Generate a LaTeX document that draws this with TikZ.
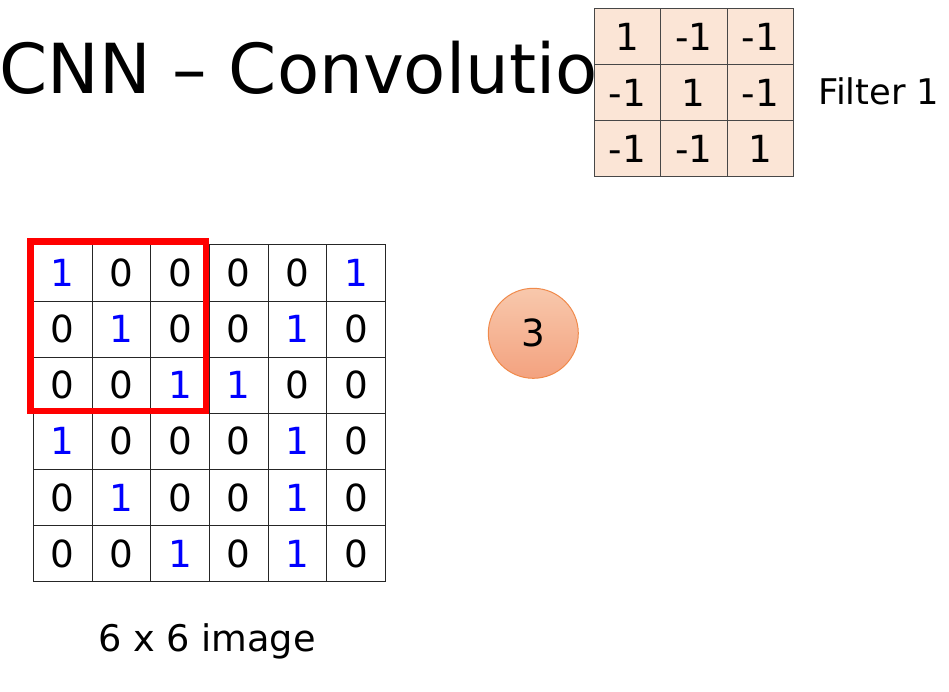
\documentclass[tikz,border=0pt]{standalone}
\usepackage{fontspec}
\setmainfont{DejaVu Sans}
\usepackage{xcolor}
\usepackage{tikz}
\definecolor{CVBlue}{HTML}{0000FF}
\definecolor{CVRed}{HTML}{FF0000}
\definecolor{CVPeach}{HTML}{FBE5D6}
\definecolor{CVGrid}{HTML}{262626}
\definecolor{CVSumTop}{HTML}{F8C8AC}
\definecolor{CVSumBot}{HTML}{F3A27F}
\definecolor{CVSumLine}{HTML}{F08A4B}
\colorlet{pixcol0}{black}
\colorlet{pixcol1}{CVBlue}

\tikzset{
  pixcell/.style={draw=CVGrid,line width=0.75pt,minimum width=44.05pt,minimum height=42.08pt,
    inner sep=0pt,outer sep=0pt,font=\fontsize{28}{30}\selectfont},
  filtcell/.style={pixcell,draw=CVGrid!85,fill=CVPeach,minimum width=49.75pt},
}

\begin{document}
\begin{tikzpicture}[x=0.75pt,y=-0.75pt]
\path[use as bounding box] (0,0) rectangle (949,692);
\node[anchor=base west,inner sep=0pt,font=\fontsize{51.75}{60}\selectfont] (title) at (-1,93.5) {CNN – Convolution};
\foreach \row [count=\r from 0] in {{1,-1,-1},{-1,1,-1},{-1,-1,1}}
  \foreach \v [count=\c from 0] in \row
    \node[filtcell] (flt-\r-\c) at (627.5+66.33*\c,36.4+56.1*\r) {\v};
\node[anchor=base west,inner sep=0pt,font=\fontsize{26.5}{29}\selectfont] (fname) at (818,104) {Filter 1};
\foreach \row [count=\r from 0] in {{1,0,0,0,0,1},{0,1,0,0,1,0},{0,0,1,1,0,0},{1,0,0,0,1,0},{0,1,0,0,1,0},{0,0,1,0,1,0}}
  \foreach \v [count=\c from 0] in \row
    \node[pixcell,text=pixcol\v] (img-\r-\c) at (62.67+58.73*\c,273.05+56.1*\r) {\v};
\draw[CVRed,line width=5pt] ([shift={(-2.7,-3.4)}]img-0-0.north west) rectangle ([shift={(-3.5,-2.3)}]img-2-2.south east);
\node[circle,draw=CVSumLine,line width=0.75pt,top color=CVSumTop,bottom color=CVSumBot,minimum size=67.5pt,
  inner sep=0pt,font=\fontsize{28}{30}\selectfont] (sum) at (533.3,333.3) {3};
\node[anchor=base,inner sep=0pt,font=\fontsize{27.5}{30}\selectfont] (caption) at (207,651.7) {6 x 6 image};
\end{tikzpicture}
\end{document}
